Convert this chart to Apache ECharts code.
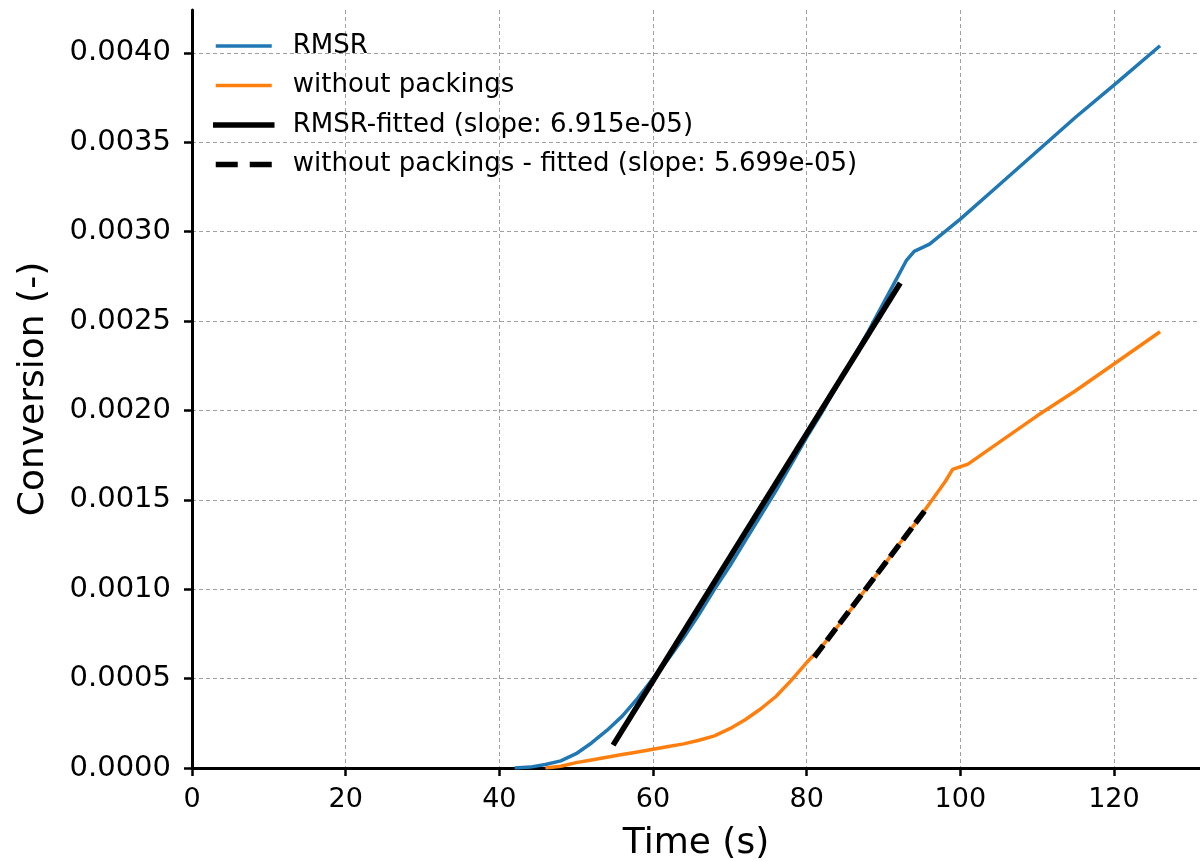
<!DOCTYPE html>
<html>
<head>
<meta charset="utf-8">
<script src="https://cdn.jsdelivr.net/npm/echarts@6/dist/echarts.min.js"></script>
<style>
  html, body { margin: 0; padding: 0; background: #fff; }
  #chart { width: 1200px; height: 861px; }
</style>
</head>
<body>
<div id="chart"></div>
<script>
// RMSR curve (time in s, conversion)
const timeRmsr = [42, 44, 46, 48, 50, 52, 54, 56, 58, 60, 62, 64, 66, 68, 70, 72, 74, 76, 78, 80, 82, 84, 86, 88, 90, 92, 93, 94, 96, 100, 105, 110, 115, 120, 126];
const convRmsr = [0, 0.000005, 0.00002, 0.00004, 0.00008, 0.00014, 0.00021, 0.00029, 0.00039, 0.0005, 0.00061, 0.00073, 0.00086, 0.001, 0.00113, 0.00127, 0.00141, 0.00155, 0.0017, 0.00185, 0.00199, 0.00214, 0.00229, 0.00244, 0.0026, 0.00276, 0.00284, 0.00289, 0.00293, 0.00307, 0.00326, 0.00345, 0.00364, 0.00382, 0.00404];

// without packings curve
const timeBare = [46, 48, 50, 52, 54, 56, 58, 60, 62, 64, 66, 68, 70, 72, 74, 76, 78, 80, 82, 84, 86, 88, 90, 92, 94, 96, 98, 99, 101, 105, 110, 115, 120, 126];
const convBare = [0, 0.00001, 0.00003, 0.000045, 0.00006, 0.000075, 0.00009, 0.000105, 0.00012, 0.000135, 0.000155, 0.00018, 0.00022, 0.00027, 0.00033, 0.0004, 0.00049, 0.00059, 0.00068, 0.00079, 0.0009, 0.00102, 0.00113, 0.00125, 0.00136, 0.00148, 0.0016, 0.00167, 0.0017, 0.00182, 0.00197, 0.00211, 0.00226, 0.00244];

// fitted lines, end points
const timeFitRmsr = [55.0, 92.0];
const convFitRmsr = [0.000141, 0.0027];
const timeFitBare = [81.0, 95.6];
const convFitBare = [0.00062, 0.001452];

const seriesNames = [
  'RMSR',
  'without packings',
  'RMSR-fitted (slope: 6.915e-05)',
  'without packings - fitted (slope: 5.699e-05)'
];

const xTickStep = 20;
const yTickStep = 0.0005;

const zip = (xs, ys) => xs.map((x, i) => [x, ys[i]]);

const chart = echarts.init(document.getElementById('chart'), null, { renderer: 'canvas' });

const font = 'DejaVu Sans';
const gridLine = { show: true, lineStyle: { color: '#a0a0a0', width: 1, type: [4, 3] } };

// line look of each series
const styles = [
  { color: '#1f77b4', width: 3.5 },
  { color: '#ff7f0e', width: 3.5 },
  { color: '#000', width: 5.5, cap: 'square' },
  { color: '#000', width: 5.5, type: [15, 6] }
];
// legend samples: same colours, dash drawn longer like matplotlib does
const legendStyles = [
  { color: '#1f77b4', width: 3.5 },
  { color: '#ff7f0e', width: 3.5 },
  { color: '#000', width: 5.5 },
  { color: '#000', width: 5.5, type: [22, 12] }
];

const option = {
  backgroundColor: '#fff',
  animation: false,
  grid: { left: 192, right: 0, top: 10, bottom: 93, outerBoundsMode: 'none', containLabel: false },
  legend: {
    orient: 'vertical',
    left: 208,
    top: 26,
    itemWidth: 56,
    itemHeight: 14,
    itemGap: 9.5,
    itemStyle: { opacity: 0 },
    data: seriesNames.map((name, i) => ({ name, lineStyle: legendStyles[i] })),
    textStyle: { fontFamily: font, fontSize: 26, color: '#000', lineHeight: 30, padding: [0, 0, 0, 16] }
  },
  xAxis: {
    type: 'value',
    min: 0,
    max: 131.2,
    interval: xTickStep,
    name: 'Time (s)',
    nameLocation: 'middle',
    nameGap: 58,
    nameTextStyle: { fontFamily: font, fontSize: 36, color: '#000' },
    axisLine: { show: true, onZero: false, lineStyle: { color: '#000', width: 3 } },
    axisTick: { show: true, length: 8, lineStyle: { color: '#000', width: 2.5 } },
    axisLabel: { fontFamily: font, fontSize: 27, color: '#000', margin: 18, showMaxLabel: false },
    splitLine: Object.assign({ showMaxLine: false }, gridLine)
  },
  yAxis: {
    type: 'value',
    min: 0,
    max: 0.00424,
    interval: yTickStep,
    name: 'Conversion (-)',
    nameLocation: 'middle',
    nameGap: 140,
    nameTextStyle: { fontFamily: font, fontSize: 36, color: '#000' },
    axisLine: { show: true, onZero: false, lineStyle: { color: '#000', width: 3 } },
    axisTick: { show: true, length: 8, lineStyle: { color: '#000', width: 2.5 } },
    axisLabel: {
      fontFamily: font, fontSize: 29, color: '#000', margin: 21, showMaxLabel: false,
      formatter: v => v.toFixed(4)
    },
    splitLine: Object.assign({ showMaxLine: false }, gridLine)
  },
  series: [
    {
      name: seriesNames[0], type: 'line', symbol: 'none', z: 2,
      data: zip(timeRmsr, convRmsr),
      lineStyle: styles[0], itemStyle: { color: styles[0].color }
    },
    {
      name: seriesNames[1], type: 'line', symbol: 'none', z: 3,
      data: zip(timeBare, convBare),
      lineStyle: styles[1], itemStyle: { color: styles[1].color }
    },
    {
      name: seriesNames[2], type: 'line', symbol: 'none', z: 4,
      data: zip(timeFitRmsr, convFitRmsr),
      lineStyle: styles[2], itemStyle: { color: styles[2].color }
    },
    {
      name: seriesNames[3], type: 'line', symbol: 'none', z: 5,
      data: zip(timeFitBare, convFitBare),
      lineStyle: styles[3], itemStyle: { color: styles[3].color }
    }
  ]
};

chart.setOption(option);
</script>
</body>
</html>
